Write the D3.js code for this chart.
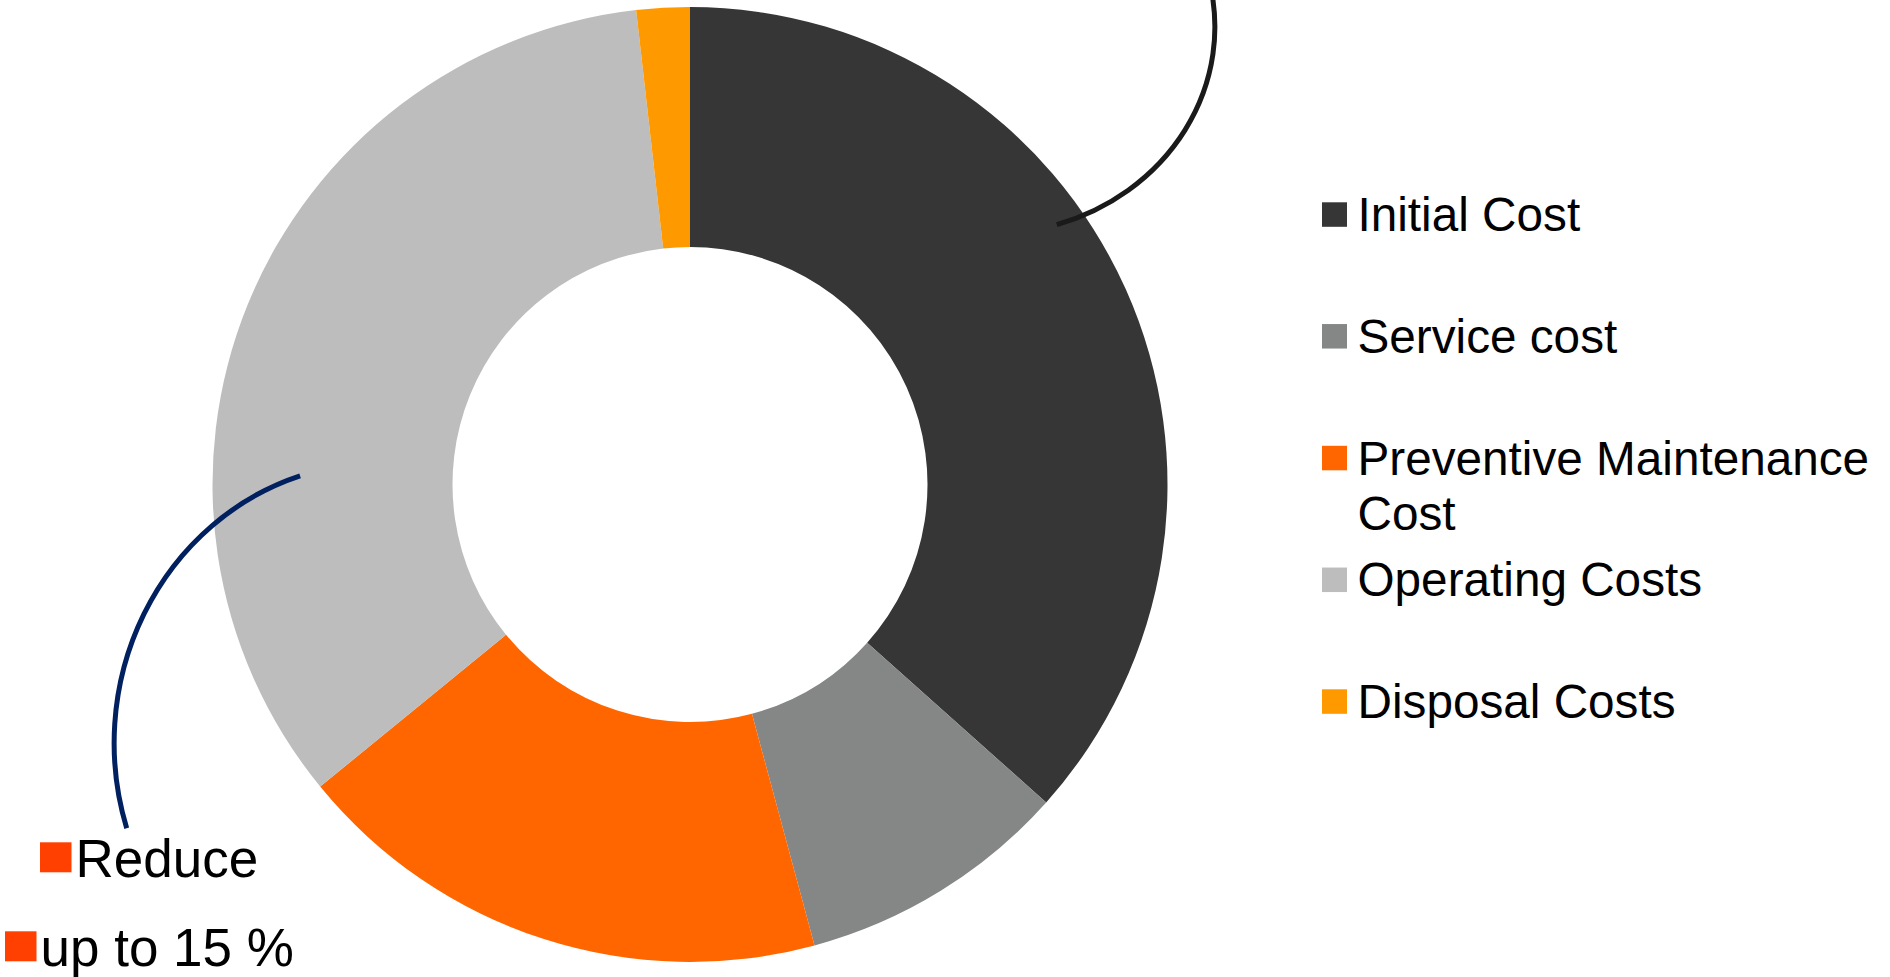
<!DOCTYPE html>
<html>
<head>
<meta charset="utf-8">
<script src="https://cdn.jsdelivr.net/npm/d3@7"></script>
<style>
  html, body { margin: 0; padding: 0; background: #fff; }
  svg { display: block; font-family: "Liberation Sans", Arial, sans-serif; }
</style>
</head>
<body>
<svg id="chart" width="1890" height="977"></svg>
<script>
// Life-cycle cost breakdown (share of total, %)
const categories = ["Initial Cost", "Service cost", "Preventive Maintenance Cost", "Operating Costs", "Disposal Costs"];
const shares = [36.6, 9.2, 18.3, 34.1, 1.8];
const colors = ["#363636", "#858786", "#ff6600", "#bdbdbd", "#ff9900"];

// Lines of each legend entry (the long one wraps)
const legendLines = [["Initial Cost"], ["Service cost"], ["Preventive Maintenance", "Cost"], ["Operating Costs"], ["Disposal Costs"]];

// Side note in the lower-left corner
const noteLines = ["Reduce", "up to 15 %"];
const noteColor = "#ff4000";

const svg = d3.select("#chart");
const cx = 690, cy = 484.5;
const outerR = 477.5, innerR = 237.5;

const pie = d3.pie().sort(null).value(d => d.value);
const arcs = pie(categories.map((c, i) => ({ name: c, value: shares[i], color: colors[i] })));
const arc = d3.arc().innerRadius(innerR).outerRadius(outerR);

const g = svg.append("g").attr("transform", `translate(${cx},${cy})`);
g.selectAll("path.slice")
  .data(arcs)
  .join("path")
  .attr("class", "slice")
  .attr("d", arc)
  .attr("fill", d => d.data.color);

// Curved callout lines, anchored inside their slices
function callout(sliceIndex, frac, radius, end, rx, ry, color) {
  const a = arcs[sliceIndex];
  const ang = a.startAngle + (a.endAngle - a.startAngle) * frac;
  const [px, py] = d3.pointRadial(ang, radius);
  const sx = cx + px, sy = cy + py;
  svg.append("path")
    .attr("d", `M${sx},${sy} A${rx},${ry} 0 0 0 ${end[0]},${end[1]}`)
    .attr("fill", "none")
    .attr("stroke", color)
    .attr("stroke-width", 5);
}
// Initial Cost: sweeps up and off the top edge
callout(0, 0.415, 449.5, [1209, -20], 225, 207, "#1a1a1a");
// Operating Costs: sweeps down to the note
callout(3, 0.33, 390, [126.7, 828.3], 265, 280, "#002060");

// Legend on the right
const legend = svg.append("g").attr("transform", "translate(1322,0)");
const rowY = d3.scaleLinear().domain([0, 1]).range([231, 352.75]);
legendLines.forEach((lines, i) => {
  const by = rowY(i);
  legend.append("rect")
    .attr("x", 0).attr("y", by - 28.7)
    .attr("width", 25).attr("height", 24.5)
    .attr("fill", colors[i]);
  const t = legend.append("text")
    .attr("x", 35.5).attr("y", by)
    .attr("font-size", 47.7)
    .attr("fill", "#000");
  lines.forEach((ln, j) => {
    t.append("tspan").attr("x", 35.5).attr("dy", j === 0 ? 0 : 55).text(ln);
  });
});

// Lower-left note
const note = [{ x: 40, base: 876.5 }, { x: 5, base: 965.5 }];
noteLines.forEach((txt, i) => {
  svg.append("rect")
    .attr("x", note[i].x).attr("y", note[i].base - 34.2)
    .attr("width", 31.5).attr("height", 30)
    .attr("fill", noteColor);
  svg.append("text")
    .attr("x", note[i].x + 35.5).attr("y", note[i].base)
    .attr("font-size", 53)
    .attr("fill", "#000")
    .text(txt);
});
</script>
</body>
</html>
